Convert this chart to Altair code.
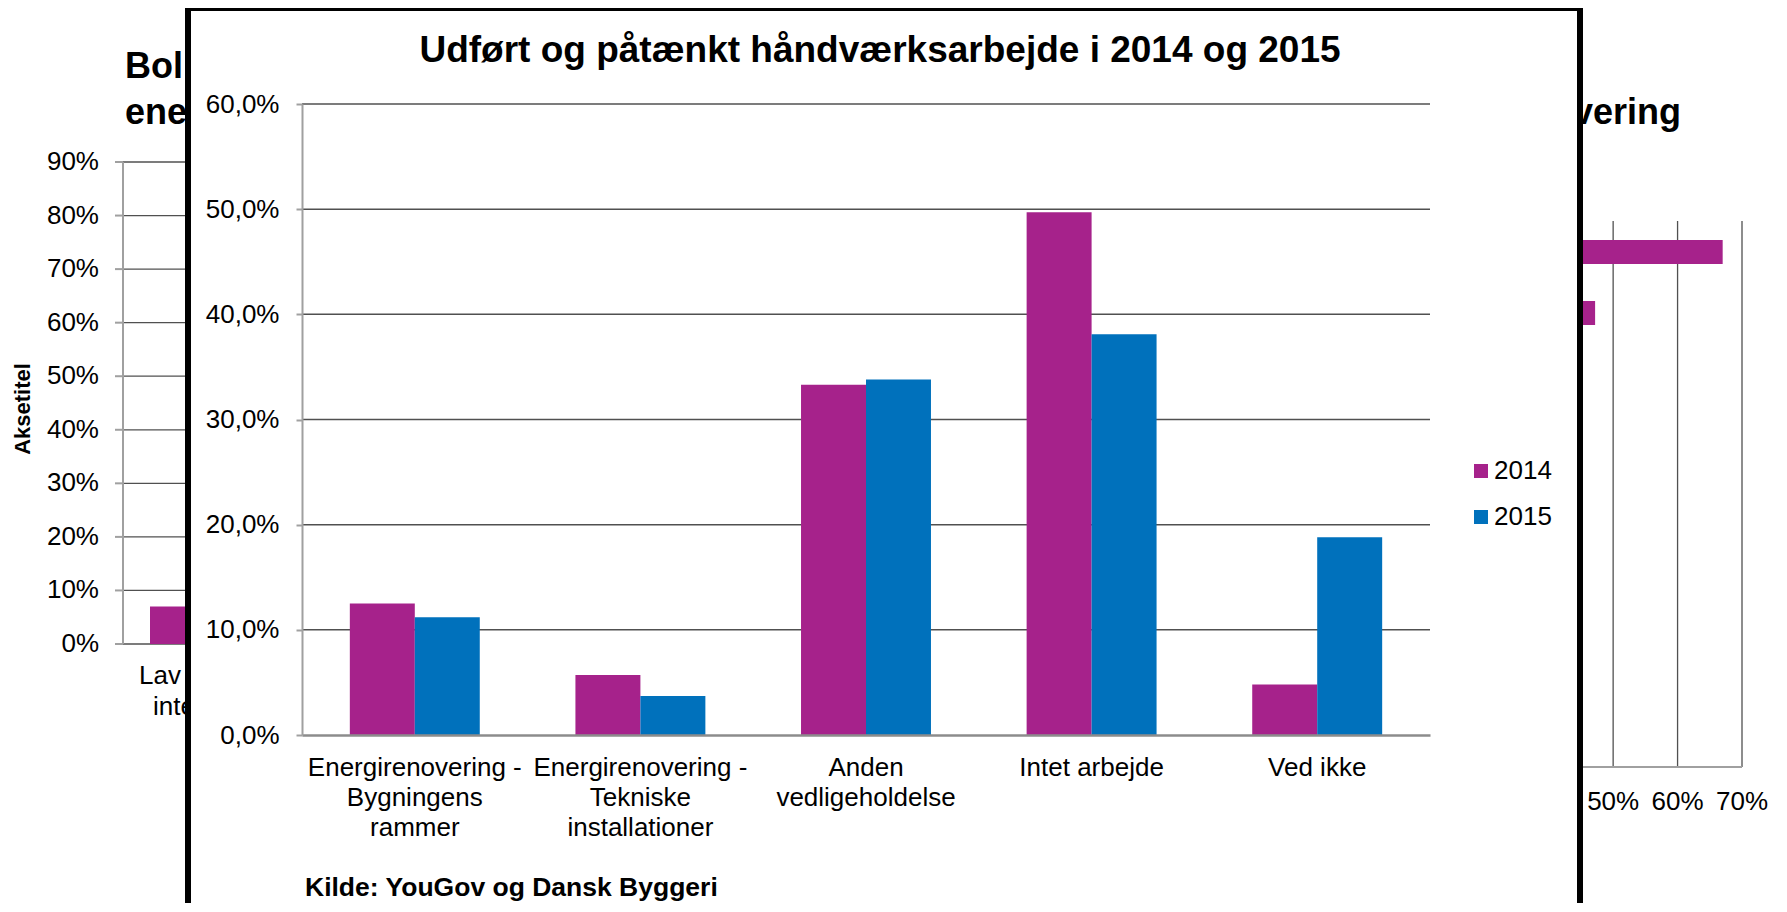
import altair as alt
import pandas as pd

FONT = "Liberation Sans"
MAGENTA = "#A6228B"
BLUE = "#0071BC"
GRID = "#505050"
AXIS = "#A0A0A0"

# ---------------- main chart data ----------------
categories = [
    "Energirenovering -\nBygningens\nrammer",
    "Energirenovering -\nTekniske\ninstallationer",
    "Anden\nvedligeholdelse",
    "Intet arbejde",
    "Ved ikke",
]
years = ["2014", "2015"]
share_2014 = [0.125, 0.057, 0.333, 0.497, 0.048]
share_2015 = [0.112, 0.037, 0.338, 0.381, 0.188]
y_ticks = [0.0, 0.1, 0.2, 0.3, 0.4, 0.5, 0.6]
grid_ticks = [0.1, 0.2, 0.3, 0.4, 0.5, 0.6]
main_title = ["Udført og påtænkt håndværksarbejde i 2014 og 2015"]
source_note = ["Kilde: YouGov og Dansk Byggeri"]

# ---------------- left background chart (mostly hidden behind the frame) ----------------
left_title_lines = ["Bol", "ene"]
left_ticks = [0.0, 0.1, 0.2, 0.3, 0.4, 0.5, 0.6, 0.7, 0.8, 0.9]
left_tick_labels = ["0%", "10%", "20%", "30%", "40%", "50%", "60%", "70%", "80%", "90%"]
left_categories = ["Lav"]
left_values = [0.07]
left_label_lines = ["Lav", "inte"]
left_axis_title = ["Aksetitel"]

# ---------------- right background chart (mostly hidden behind the frame) ----------------
right_title = ["vering"]
right_categories = ["Svar 1", "Svar 2"]
right_values = [0.67, 0.472]
right_ticks = [0.0, 0.1, 0.2, 0.3, 0.4, 0.5, 0.6, 0.7]
right_tick_labels = ["0%", "10%", "20%", "30%", "40%", "50%", "60%", "70%"]

W, H = 1128, 631


def text_layer(lines, x, y, size, bold=False, align="left", baseline="alphabetic", angle=0):
    return alt.Chart(pd.DataFrame({"t": lines})).mark_text(
        font=FONT, fontSize=size, fontWeight="bold" if bold else "normal",
        align=align, baseline=baseline, angle=angle, color="black",
    ).encode(text="t:N", x=alt.value(x), y=alt.value(y))


# ----- left chart -----
ly = alt.Scale(domain=[0, 0.9], range=[540, 58], nice=False, zero=False)
left_df = pd.DataFrame({"v": left_ticks, "lab": left_tick_labels})
l_grid = alt.Chart(left_df).mark_rule(color=GRID, strokeWidth=1.3).encode(
    y=alt.Y("v:Q", scale=ly, axis=None), x=alt.value(-179), x2=alt.value(-100))
l_tick = alt.Chart(left_df).mark_rule(color=AXIS, strokeWidth=2).encode(
    y=alt.Y("v:Q", scale=ly, axis=None), x=alt.value(-187), x2=alt.value(-179))
l_axis = alt.Chart(pd.DataFrame({"a": [left_ticks[0]], "b": [left_ticks[-1]]})).mark_rule(
    color=AXIS, strokeWidth=2).encode(y=alt.Y("a:Q", scale=ly, axis=None), y2="b:Q", x=alt.value(-179))
l_labels = alt.Chart(left_df).mark_text(font=FONT, fontSize=26, align="right", baseline="middle",
                                        color="black").encode(
    y=alt.Y("v:Q", scale=ly, axis=None), x=alt.value(-203), text="lab:N")
l_bar = alt.Chart(pd.DataFrame({"k": left_categories, "v": left_values})).mark_bar(color=MAGENTA).encode(
    x=alt.X("k:N", scale=alt.Scale(range=[-152, -52], paddingInner=0, paddingOuter=0), axis=None),
    y=alt.Y("v:Q", scale=ly, axis=None))
left_chart = alt.layer(l_grid, l_tick, l_axis, l_labels, l_bar)

left_texts = alt.layer(
    text_layer([left_title_lines[0]], -177, -26, 36, bold=True),
    text_layer([left_title_lines[1]], -177, 20, 36, bold=True),
    text_layer([left_label_lines[0]], -163, 572, 26, baseline="middle"),
    text_layer([left_label_lines[1]], -149, 603, 26, baseline="middle"),
    text_layer(left_axis_title, -279, 305, 22, bold=True, align="center", baseline="middle", angle=270),
)

# ----- right chart -----
rx = alt.Scale(domain=[0, 0.7], range=[989, 1440], nice=False)
right_df = pd.DataFrame({"v": right_ticks, "lab": right_tick_labels})
r_grid = alt.Chart(right_df[right_df.v > 0.35]).mark_rule(color=GRID, strokeWidth=1.3).encode(
    x=alt.X("v:Q", scale=rx, axis=None), y=alt.value(117), y2=alt.value(663))
r_base = alt.Chart(pd.DataFrame({"a": [right_ticks[0]], "b": [right_ticks[-1]]})).mark_rule(
    color=AXIS, strokeWidth=2).encode(x=alt.X("a:Q", scale=rx, axis=None), x2="b:Q", y=alt.value(663))
r_labels = alt.Chart(right_df[right_df.v > 0.45]).mark_text(
    font=FONT, fontSize=26, align="center", baseline="middle", color="black").encode(
    x=alt.X("v:Q", scale=rx, axis=None), y=alt.value(698), text="lab:N")
r_bars = alt.Chart(pd.DataFrame({"k": right_categories, "v": right_values})).mark_bar(color=MAGENTA).encode(
    x=alt.X("v:Q", scale=rx, axis=None),
    y=alt.Y("k:N", sort=right_categories,
            scale=alt.Scale(range=[117.5, 239.5], paddingInner=0.607, paddingOuter=0.3035), axis=None))
right_chart = alt.layer(r_grid, r_base, r_labels, r_bars)
right_texts = text_layer(right_title, 1379, 20, 36, bold=True, align="right")

# ----- frame of the main chart -----
frame = alt.Chart(pd.DataFrame({"f": [1]})).mark_rect(
    fill="white", stroke="black", strokeWidth=6).encode(
    x=alt.value(-114), x2=alt.value(1278), y=alt.value(-96), y2=alt.value(880))

# ----- main chart -----
y_scale = alt.Scale(domain=[0, 0.6], nice=False)
y_axis = alt.Axis(values=y_ticks, labelExpr="replace(format(datum.value, '.1%'), '.', ',')",
                  title=None, grid=False, zindex=1, domainColor=AXIS, domainWidth=2,
                  tickColor=AXIS, tickSize=6, tickWidth=2, labelFont=FONT, labelFontSize=26,
                  labelColor="black", labelPadding=17)
main_df = pd.DataFrame({
    "Kategori": categories * 2,
    "År": [years[0]] * len(categories) + [years[1]] * len(categories),
    "Andel": share_2014 + share_2015,
})
m_grid = alt.Chart(pd.DataFrame({"Andel": grid_ticks})).mark_rule(color=GRID, strokeWidth=1.5).encode(
    y=alt.Y("Andel:Q", scale=y_scale, axis=y_axis), x=alt.value(0), x2=alt.value(W))
m_bars = alt.Chart(main_df).mark_bar().encode(
    x=alt.X("Kategori:N", sort=categories,
            scale=alt.Scale(paddingInner=0.424, paddingOuter=0.212),
            axis=alt.Axis(title=None, labelAngle=0, labelExpr="split(datum.label, '\\n')",
                          labelFont=FONT, labelFontSize=26, labelLineHeight=30, labelColor="black",
                          labelBaseline="top", labelPadding=19, ticks=False, tickSize=0,
                          domainColor="#8C8C8C", domainWidth=2.5, labelLimit=0, zindex=1)),
    xOffset=alt.XOffset("År:N", sort=years),
    y=alt.Y("Andel:Q", scale=y_scale, axis=y_axis),
    color=alt.Color("År:N", scale=alt.Scale(domain=years, range=[MAGENTA, BLUE]),
                    legend=alt.Legend(title=None, orient="none", legendX=1166, legendY=354,
                                      symbolType="square", symbolSize=196, symbolStrokeWidth=0,
                                      labelFont=FONT, labelFontSize=26, labelColor="black",
                                      rowPadding=20, labelOffset=0, padding=0)),
)
main_chart = alt.layer(m_grid, m_bars)

main_texts = alt.layer(
    text_layer(main_title, 578, -42, 37, bold=True, align="center"),
    text_layer(source_note, 3, 792, 26.5, bold=True),
)

chart = alt.layer(
    left_chart, left_texts, right_chart, right_texts, frame, main_texts, main_chart
).resolve_scale(x="independent", y="independent").properties(
    width=W, height=H,
    padding={"left": 294, "top": 96, "right": 349, "bottom": 168},
    autosize=alt.AutoSizeParams(type="none"),
    background="white",
).configure_view(stroke=None)

chart.save("out.html", embed_options={"renderer": "svg", "actions": False})
